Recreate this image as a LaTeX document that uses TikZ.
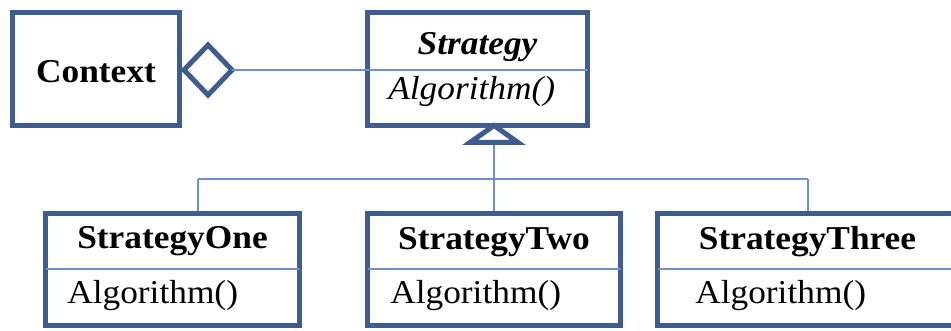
\documentclass[tikz,border=0pt]{standalone}
\usepackage{fontspec}
\setmainfont[FakeStretch=1.06]{Liberation Serif}
\usetikzlibrary{shapes.geometric}
\definecolor{boxcol}{RGB}{62,92,142}
\definecolor{linecol}{RGB}{110,145,205}
\begin{document}
\begin{tikzpicture}[x=0.75pt,y=-0.75pt,
  umlbox/.style={draw=boxcol,line width=3.75pt,fill=white,inner sep=0pt,outer sep=0pt},
  conn/.style={draw=linecol,line width=1.5pt},
  divider/.style={draw=linecol,line width=1.5pt,shorten <=1.875pt,shorten >=1.875pt},
  nm/.style={inner sep=0pt,anchor=base,font=\fontsize{25}{29}\selectfont\bfseries},
  nmi/.style={inner sep=0pt,anchor=base,font=\fontsize{25}{29}\selectfont\bfseries\itshape},
  op/.style={inner sep=0pt,anchor=base west,font=\fontsize{25}{29}\selectfont},
  opi/.style={inner sep=0pt,anchor=base west,font=\fontsize{25}{29}\selectfont\itshape}]
\useasboundingbox (0,0) rectangle (951,331);
\clip (0,0) rectangle (951,331);

% Context
\node[umlbox,minimum width=167*0.75pt,minimum height=113*0.75pt] (ctx) at (96,69) {};
\node[nm] (ctxname) at (96,83) {Context};

% Strategy
\node[umlbox,minimum width=220*0.75pt,minimum height=113*0.75pt] (strat) at (477.5,69) {};
\coordinate (sdl) at (365,70);
\coordinate (sdr) at (590,70);
\draw[divider] (sdl) -- (sdr);
\node[nmi] (stratname) at (477.5,55) {Strategy};
\node[opi] (stratop) at (388,100) {Algorithm()};

% Subclasses
\node[umlbox,minimum width=254*0.75pt,minimum height=112*0.75pt] (one) at (172.5,269.5) {};
\node[umlbox,minimum width=253*0.75pt,minimum height=112*0.75pt] (two) at (494,269.5) {};
\node[umlbox,minimum width=300*0.75pt,minimum height=112*0.75pt] (three) at (807.5,269.5) {};
\coordinate (dl1) at (43,269); \coordinate (dr1) at (302,269);
\coordinate (dl2) at (365,269); \coordinate (dr2) at (623,269);
\coordinate (dl3) at (655,269); \coordinate (dr3) at (960,269);
\draw[divider] (dl1) -- (dr1);
\draw[divider] (dl2) -- (dr2);
\draw[divider] (dl3) -- (dr3);
\node[nm] (onename) at (172.5,249) {StrategyOne};
\node[nm] (twoname) at (494,250) {StrategyTwo};
\node[nm] (threename) at (807.5,250) {StrategyThree};
\node[op] (oneop) at (67,304) {Algorithm()};
\node[op] (twoop) at (390,304) {Algorithm()};
\node[op] (threeop) at (695,304) {Algorithm()};

% Aggregation diamond
\node[diamond,draw=boxcol,line width=3.75pt,fill=white,inner sep=0pt,outer sep=0pt,
      minimum width=48*0.75pt,minimum height=50*0.75pt] (dia) at (208,70) {};
\draw[conn] (dia.east) -- (dia.east -| strat.west);

% Generalization
\coordinate (apex) at (strat.south -| two.north);
\coordinate (tribase) at ([yshift=-17*0.75pt]apex);
\coordinate (bus) at (0,179);
\coordinate (d1) at (198,211);
\draw[conn] (tribase) -- (tribase |- bus);
\draw[conn,shorten >=1.875pt] (tribase |- bus) -- (two.north);
\draw[conn,shorten >=1.875pt] (d1 |- bus) -- ([yshift=-1.875pt]d1);
\draw[conn] (d1 |- bus) -- (three.north |- bus);
\draw[conn,shorten >=1.875pt] (three.north |- bus) -- (three.north);
\draw[boxcol,line width=3.75pt,fill=white,line join=miter]
  (apex) -- ([xshift=-24*0.75pt]tribase) -- ([xshift=24*0.75pt]tribase) -- cycle;
\end{tikzpicture}
\end{document}
